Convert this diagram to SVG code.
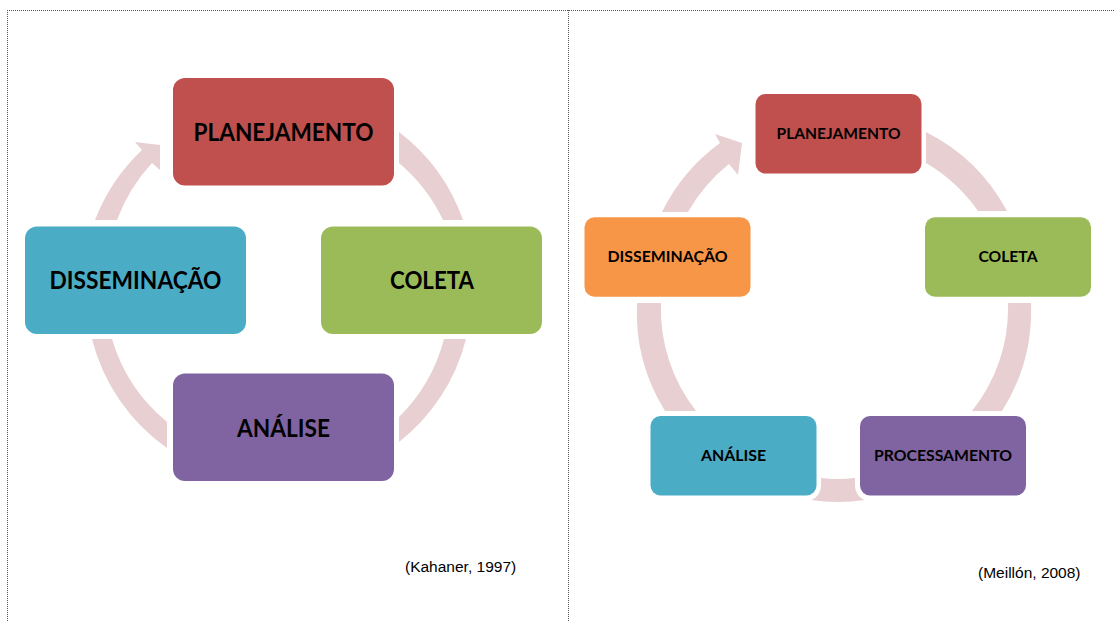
<svg xmlns="http://www.w3.org/2000/svg" width="1115" height="621" viewBox="0 0 1115 621">
<style>
.frame{fill:none;stroke:#555;stroke-width:1;stroke-dasharray:1 1}
.conn{fill:#E8CFD1;stroke:none}
.lbl{font-family:Lato,"Open Sans","Liberation Sans",sans-serif;font-weight:bold;fill:#000;text-anchor:middle}
.big{font-size:25px}
.small{font-size:14.5px}
.cite{font-family:"Liberation Sans",Arial,sans-serif;font-size:15.5px;fill:#000}
.red{fill:#C0504D}.green{fill:#9BBB59}.blue{fill:#4BACC6}.purple{fill:#8064A2}.orange{fill:#F79646}
</style>
<g id="frame">
<path class="frame" d="M7,10.5 H1115 M7.5,10 V621 M568.5,10 V621"/>
</g>
<g id="connectors">
<path class="conn" d="M399,132 A190,190 0 0 1 463,220 L443,220 A170,170 0 0 0 399,163 Z"/>
<path class="conn" d="M466,339 A190,190 0 0 1 399,442 L399,417 A170,170 0 0 0 444,339 Z"/>
<path class="conn" d="M167,448 A190,190 0 0 1 92,339 L112,339 A170,170 0 0 0 167,422 Z"/>
<path class="conn" d="M95,220 A190,190 0 0 1 142,150 L135,142 L160,145 L160,170 L152,163 A170,170 0 0 0 117,220 Z"/>
<path class="conn" d="M926,132 A188,188 0 0 1 1007,211 L978,211 A165,165 0 0 0 926,163 Z"/>
<path class="conn" d="M1031,303 A188,188 0 0 1 1002,411 L972,411 A165,165 0 0 0 1008,303 Z"/>
<path class="conn" d="M821,478 A165,165 0 0 0 855,478 L855,486 A15,15 0 0 0 864.6,500 A188,188 0 0 1 811.4,500 A15,15 0 0 0 821,486 Z"/>
<path class="conn" d="M665,411 A188,188 0 0 1 637,303 L661,303 A165,165 0 0 0 696,411 Z"/>
<path class="conn" d="M662,212 A188,188 0 0 1 720,143 L715,134 L742,143 L738,175 L729,164 A165,165 0 0 0 688,212 Z"/>
</g>
<g id="k-planejamento">
<rect class="red" x="173" y="78" width="221" height="107.5" rx="12"/>
<text class="lbl big" x="283.5" y="141" textLength="180" lengthAdjust="spacingAndGlyphs">PLANEJAMENTO</text>
</g>
<g id="k-coleta">
<rect class="green" x="321" y="226.5" width="221" height="107.5" rx="12"/>
<text class="lbl big" x="432" y="289" textLength="84" lengthAdjust="spacingAndGlyphs">COLETA</text>
</g>
<g id="k-analise">
<rect class="purple" x="173" y="373.5" width="221" height="107.5" rx="12"/>
<text class="lbl big" x="283.5" y="437" textLength="93" lengthAdjust="spacingAndGlyphs">ANÁLISE</text>
</g>
<g id="k-disseminacao">
<rect class="blue" x="25" y="226.5" width="221" height="107.5" rx="12"/>
<text class="lbl big" x="135.5" y="289" textLength="172" lengthAdjust="spacingAndGlyphs">DISSEMINAÇÃO</text>
</g>
<g id="m-planejamento">
<rect class="red" x="755.5" y="94" width="166" height="79.5" rx="10"/>
<text class="lbl small" x="838.5" y="139" textLength="124" lengthAdjust="spacingAndGlyphs">PLANEJAMENTO</text>
</g>
<g id="m-coleta">
<rect class="green" x="925" y="217.3" width="166" height="79.5" rx="10"/>
<text class="lbl small" x="1008" y="262" textLength="59" lengthAdjust="spacingAndGlyphs">COLETA</text>
</g>
<g id="m-processamento">
<rect class="purple" x="860" y="416" width="166" height="79.5" rx="10"/>
<text class="lbl small" x="943" y="461" textLength="138" lengthAdjust="spacingAndGlyphs">PROCESSAMENTO</text>
</g>
<g id="m-analise">
<rect class="blue" x="650.5" y="416" width="166" height="79.5" rx="10"/>
<text class="lbl small" x="733.5" y="461" textLength="65" lengthAdjust="spacingAndGlyphs">ANÁLISE</text>
</g>
<g id="m-disseminacao">
<rect class="orange" x="584.5" y="217.3" width="166" height="79.5" rx="10"/>
<text class="lbl small" x="667.5" y="262" textLength="120" lengthAdjust="spacingAndGlyphs">DISSEMINAÇÃO</text>
</g>
<g id="citations">
<text class="cite" x="405" y="572">(Kahaner, 1997)</text>
<text class="cite" x="978" y="577.5">(Meillón, 2008)</text>
</g>
</svg>
